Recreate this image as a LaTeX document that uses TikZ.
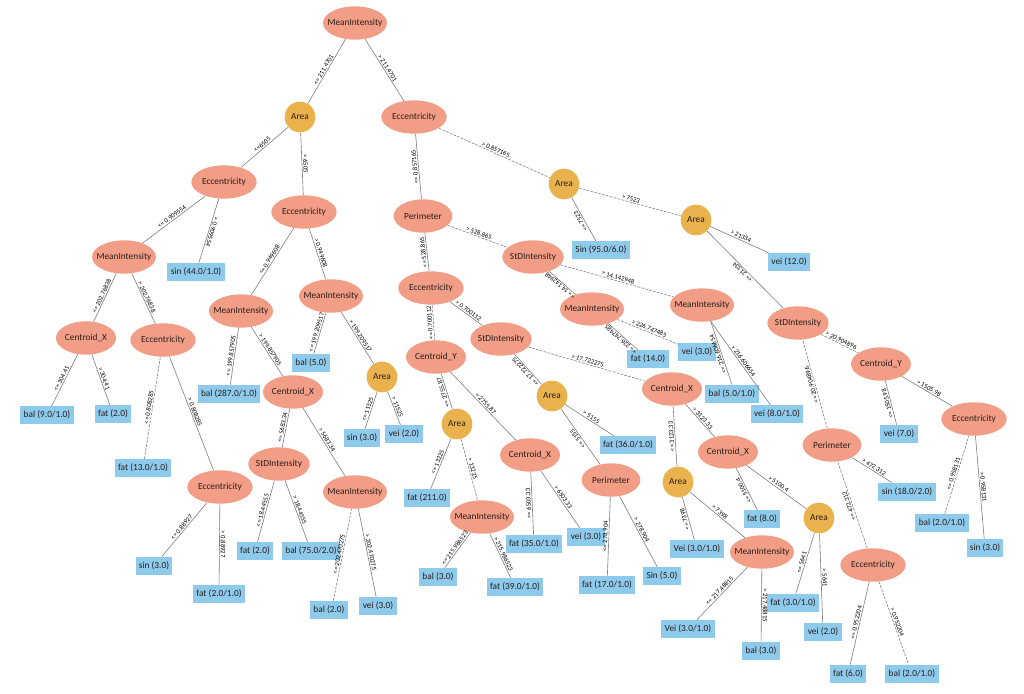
\documentclass[tikz,border=0pt]{standalone}
\usepackage{fontspec}
\setmainfont{Carlito}
\usepackage{xcolor}
\usepackage{tikz}
\usetikzlibrary{shapes.geometric}
\definecolor{attrfill}{HTML}{F29D86}
\definecolor{areafill}{HTML}{E9B24C}
\definecolor{leafblue}{HTML}{8ECAEC}
\definecolor{edgegray}{HTML}{7E7E7E}
\definecolor{inkdark}{HTML}{2A1E1C}

\begin{document}
\begin{tikzpicture}[x=0.75pt,y=-0.75pt,font=\fontsize{7}{8}\selectfont,text=inkdark]
        \tikzstyle{attr}=[ellipse,fill=attrfill,inner xsep=-10pt,inner ysep=0pt,minimum height=25pt,minimum width=#1]
        \tikzstyle{area}=[circle,fill=areafill,inner sep=0pt,minimum size=23pt]
        \tikzstyle{leaf}=[fill=leafblue,inner xsep=2.5pt,inner ysep=0pt,minimum height=13.5pt]
        \tikzstyle{br}=[draw=edgegray,line width=0.45pt]
        \tikzstyle{brd}=[br,dash pattern=on 2pt off 1pt]
        \tikzstyle{cond}=[sloped,allow upside down,above,inner sep=0.8pt,font=\fontsize{5}{6}\selectfont,text=black]
        \fill[white] (0,0) rectangle (1024,693);
        \useasboundingbox (0,0) rectangle (1024,693);
        % root and left half
        \node[attr=48pt] (n0) at (355,23) {MeanIntensity};
        \node[area] (a1) at (300,117) {Area};
        \node[attr=49pt] (e1) at (414,117) {Eccentricity};
        \node[attr=49pt] (e2) at (224,182) {Eccentricity};
        \node[attr=49pt] (e3) at (304,212) {Eccentricity};
        \node[attr=48pt] (m2) at (124,257) {MeanIntensity};
        \node[leaf] (l1) at (196,272) {sin (44.0/1.0)};
        \node[attr=45pt] (cx1) at (86,338) {Centroid\_X};
        \node[attr=49pt] (e4) at (163,340) {Eccentricity};
        \node[leaf] (l2) at (47,415) {bal (9.0/1.0)};
        \node[leaf] (l3) at (113,414) {fat (2.0)};
        \node[leaf] (l4) at (143,468) {fat (13.0/1.0)};
        \node[attr=49pt] (e5) at (220,487) {Eccentricity};
        \node[leaf] (l5) at (154,566) {sin (3.0)};
        \node[leaf] (l6) at (219,594) {fat (2.0/1.0)};
        \node[attr=48pt] (m3) at (241,311) {MeanIntensity};
        \node[attr=48pt] (m4) at (331,296) {MeanIntensity};
        \node[leaf] (l7) at (229,394) {bal (287.0/1.0)};
        \node[attr=45pt] (cx2) at (293,392) {Centroid\_X};
        \node[attr=46pt] (s1) at (279,464) {StDIntensity};
        \node[attr=48pt] (m5) at (355,492) {MeanIntensity};
        \node[leaf] (l8) at (255,551) {fat (2.0)};
        \node[leaf] (l9) at (311,551) {bal (75.0/2.0)};
        \node[leaf] (l10) at (329,610) {bal (2.0)};
        \node[leaf] (l11) at (378,606) {vei (3.0)};
        \node[leaf] (l12) at (311,363) {bal (5.0)};
        \node[area] (a2) at (382,377) {Area};
        \node[leaf] (l13) at (362,438) {sin (3.0)};
        \node[leaf] (l14) at (404,434) {vei (2.0)};
        % right half
        \node[attr=44pt] (p1) at (423,216) {Perimeter};
        \node[area] (a3) at (564,184) {Area};
        \node[leaf] (l15) at (601,250) {Sin (95.0/6.0)};
        \node[area] (a4) at (696,220) {Area};
        \node[leaf] (l16) at (789,262) {vei (12.0)};
        \node[attr=46pt] (s2) at (798,323) {StDIntensity};
        \node[attr=44pt] (p2) at (832,445) {Perimeter};
        \node[attr=45pt] (cy2) at (881,364) {Centroid\_Y};
        \node[leaf] (l17) at (899,434) {vei (7.0)};
        \node[attr=49pt] (e7) at (974,419) {Eccentricity};
        \node[leaf] (l18) at (942,523) {bal (2.0/1.0)};
        \node[leaf] (l19) at (985,548) {sin (3.0)};
        \node[attr=49pt] (e8) at (873,565) {Eccentricity};
        \node[leaf] (l20) at (907,492) {sin (18.0/2.0)};
        \node[leaf] (l21) at (848,674) {fat (6.0)};
        \node[leaf] (l22) at (912,674) {bal (2.0/1.0)};
        \node[attr=49pt] (e6) at (431,288) {Eccentricity};
        \node[attr=46pt] (s3) at (533,257) {StDIntensity};
        \node[attr=48pt] (m6) at (592,309) {MeanIntensity};
        \node[attr=48pt] (m7) at (702,305) {MeanIntensity};
        \node[leaf] (l23) at (648,359) {fat (14.0)};
        \node[leaf] (l24) at (697,352) {vei (3.0)};
        \node[leaf] (l25) at (732,394) {bal (5.0/1.0)};
        \node[leaf] (l26) at (777,414) {vei (8.0/1.0)};
        \node[attr=45pt] (cy1) at (436,357) {Centroid\_Y};
        \node[attr=46pt] (s4) at (501,339) {StDIntensity};
        \node[area] (a5) at (457,424) {Area};
        \node[attr=45pt] (cx3) at (530,455) {Centroid\_X};
        \node[leaf] (l27) at (427,498) {fat (211.0)};
        \node[attr=48pt] (m8) at (482,517) {MeanIntensity};
        \node[leaf] (l28) at (438,577) {bal (3.0)};
        \node[leaf] (l29) at (515,587) {fat (39.0/1.0)};
        \node[leaf] (l30) at (534,544) {fat (35.0/1.0)};
        \node[leaf] (l31) at (586,537) {vei (3.0)};
        \node[area] (a6) at (552,396) {Area};
        \node[attr=45pt] (cx4) at (672,389) {Centroid\_X};
        \node[attr=44pt] (p3) at (611,480) {Perimeter};
        \node[leaf] (l32) at (628,445) {fat (36.0/1.0)};
        \node[leaf] (l33) at (607,585) {fat (17.0/1.0)};
        \node[leaf] (l34) at (662,576) {Sin (5.0)};
        \node[area] (a7) at (678,482) {Area};
        \node[attr=45pt] (cx5) at (728,452) {Centroid\_X};
        \node[leaf] (l35) at (697,549) {Vei (3.0/1.0)};
        \node[attr=48pt] (m9) at (762,552) {MeanIntensity};
        \node[leaf] (l36) at (688,629) {Vei (3.0/1.0)};
        \node[leaf] (l37) at (761,651) {bal (3.0)};
        \node[leaf] (l38) at (762,519) {fat (8.0)};
        \node[area] (a8) at (819,518) {Area};
        \node[leaf] (l39) at (793,603) {fat (3.0/1.0)};
        \node[leaf] (l40) at (823,632) {vei (2.0)};
        % branches: "<=" labels run child to parent, ">" labels parent to child
        \draw[br] (a1) -- node[cond] {<= 211.4701} (n0);
        \draw[br] (n0) -- node[cond] {> 211.4701} (e1);
        \draw[br] (e2) -- node[cond] {<=6505} (a1);
        \draw[br] (a1) -- node[cond] {> 6505} (e3);
        \draw[br] (m2) -- node[cond] {<= 0.909554} (e2);
        \draw[br] (e2) -- node[cond] {> 0.909554} (l1);
        \draw[br] (cx1) -- node[cond] {<= 202.76838} (m2);
        \draw[br] (m2) -- node[cond] {> 202.76838} (e4);
        \draw[br] (l2) -- node[cond] {<= 304.41} (cx1);
        \draw[br] (cx1) -- node[cond] {> 304.41} (l3);
        \draw[brd] (l4) -- node[cond] {<= 0.808285} (e4);
        \draw[br] (e4) -- node[cond] {> 0.808285} (e5);
        \draw[br] (l5) -- node[cond] {<= 0.88927} (e5);
        \draw[br] (e5) -- node[cond] {> 0.88927} (l6);
        \draw[br] (m3) -- node[cond] {<= 0.949608} (e3);
        \draw[br] (e3) -- node[cond] {> 0.949608} (m4);
        \draw[br] (l7) -- node[cond] {<= 199.857905} (m3);
        \draw[br] (m3) -- node[cond] {> 199.857905} (cx2);
        \draw[br] (s1) -- node[cond] {<= 5683.34} (cx2);
        \draw[br] (cx2) -- node[cond] {> 5683.34} (m5);
        \draw[br] (l8) -- node[cond] {<= 18.44555} (s1);
        \draw[br] (s1) -- node[cond] {> 18.44555} (l9);
        \draw[brd] (l10.65) -- node[cond] {<= 202.470275} (m5);
        \draw[br] (m5) -- node[cond] {> 202.470275} (l11);
        \draw[br] (l12) -- node[cond] {<= 199.209517} (m4);
        \draw[br] (m4) -- node[cond] {> 199.209517} (a2);
        \draw[br] (l13) -- node[cond] {<= 11525} (a2);
        \draw[br] (a2) -- node[cond] {> 11525} (l14);
        \draw[br] (p1) -- node[cond] {<= 0.857165} (e1);
        \draw[brd] (e1) -- node[cond] {> 0.857165} (a3);
        \draw[br] (l15) -- node[cond] {<= 7523} (a3);
        \draw[brd] (a3) -- node[cond] {> 7523} (a4);
        \draw[br] (s2) -- node[cond] {<= 21334} (a4);
        \draw[br] (a4) -- node[cond] {> 21334} (l16);
        \draw[brd] (p2) -- node[cond] {<= 20.904896} (s2);
        \draw[brd] (s2) -- node[cond] {> 20.904896} (cy2);
        \draw[br] (l17) -- node[cond] {<= 1505.98} (cy2);
        \draw[br] (cy2) -- node[cond] {> 1505.98} (e7);
        \draw[brd] (l18) -- node[cond] {<= 0.958131} (e7);
        \draw[br] (e7) -- node[cond] {> 0.958131} (l19);
        \draw[brd] (e8) -- node[cond] {<= 472.312} (p2);
        \draw[br] (p2) -- node[cond] {> 472.312} (l20);
        \draw[br] (l21) -- node[cond] {<= 0.952204} (e8);
        \draw[brd] (e8) -- node[cond] {> 0.952204} (l22);
        \draw[br] (e6) -- node[cond] {<= 528.865} (p1);
        \draw[brd] (p1) -- node[cond] {> 528.865} (s3);
        \draw[br] (m6) -- node[cond] {<= 14.142948} (s3);
        \draw[brd] (s3) -- node[cond] {> 14.142948} (m7);
        \draw[br] (l23) -- node[cond] {<= 226.747485} (m6);
        \draw[brd] (m6) -- node[cond] {> 226.747485} (l24);
        \draw[br] (l25.north) -- node[cond] {<= 216.606654} (m7.-62);
        \draw[br] (m7.-62) -- node[cond] {> 216.606654} (l26);
        \draw[brd] (cy1) -- node[cond] {<= 0.700112} (e6);
        \draw[br] (e6) -- node[cond] {> 0.700112} (s4);
        \draw[br] (a5) -- node[cond] {<= 2755.87} (cy1);
        \draw[br] (cy1) -- node[cond] {> 2755.87} (cx3);
        \draw[br] (l27) -- node[cond] {<= 13225} (a5);
        \draw[brd] (a5) -- node[cond] {> 13225} (m8);
        \draw[br] (l28) -- node[cond] {<= 215.986523} (m8);
        \draw[br] (m8) -- node[cond] {> 215.986523} (l29);
        \draw[br] (l30) -- node[cond] {<= 6503.33} (cx3);
        \draw[br] (cx3) -- node[cond] {> 6503.33} (l31);
        \draw[br] (a6) -- node[cond] {<= 17.722275} (s4);
        \draw[brd] (s4) -- node[cond] {> 17.722275} (cx4);
        \draw[br] (p3) -- node[cond] {<= 5155} (a6);
        \draw[br] (a6) -- node[cond] {> 5155} (l32);
        \draw[br] (l33) -- node[cond] {<= 278.904} (p3);
        \draw[br] (p3) -- node[cond] {> 278.904} (l34);
        \draw[br] (a7) -- node[cond] {<= 3123.33} (cx4);
        \draw[br] (cx4) -- node[cond] {> 3123.33} (cx5);
        \draw[br] (l35) -- node[cond] {<= 7398} (a7);
        \draw[br] (a7) -- node[cond] {> 7398} (m9);
        \draw[br] (l36) -- node[cond] {<= 217.48815} (m9);
        \draw[br] (m9) -- node[cond] {> 217.48815} (l37);
        \draw[br] (l38) -- node[cond] {<= 5100.4} (cx5);
        \draw[br] (cx5) -- node[cond] {> 5100.4} (a8);
        \draw[br] (l39) -- node[cond] {<= 5641} (a8);
        \draw[br] (a8) -- node[cond] {> 5641} (l40);
      \end{tikzpicture}
\end{document}
